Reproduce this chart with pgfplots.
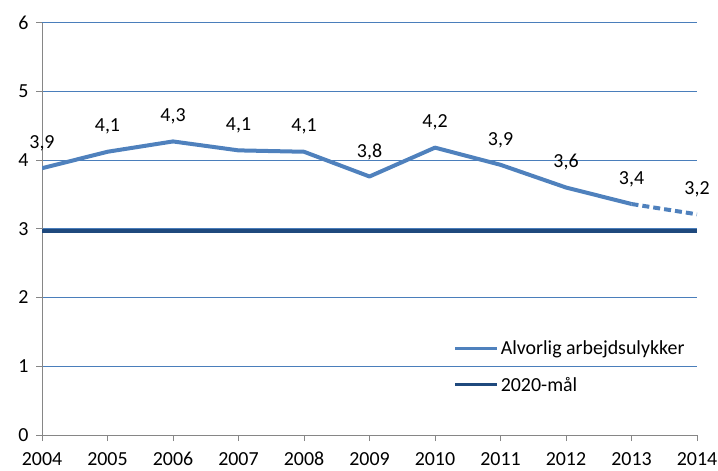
\documentclass[border=0pt]{standalone}
\usepackage{pgfplots}
\pgfplotsset{compat=1.18}
\usepackage{fontspec}
\setmainfont{Carlito}
\definecolor{lineblue}{HTML}{4F81BD}
\definecolor{darkblue}{HTML}{1F497D}
\definecolor{gridblue}{HTML}{4A7EBB}
\definecolor{axisgray}{HTML}{868686}
\newcommand{\lblfont}{\fontsize{20}{24}\selectfont}
\begin{document}
\begin{tikzpicture}
\begin{axis}[
  at={(0,0)}, anchor=south west,
  scale only axis, width=655bp, height=412.5bp,
  xmin=2004, xmax=2014, ymin=0, ymax=6,
  xtick={2004,2005,...,2014}, ytick={0,1,...,6},
  x tick label style={/pgf/number format/1000 sep={}},
  axis x line*=bottom, axis y line*=left,
  axis line style={axisgray, line width=0.75bp, -},
  tick align=outside, major tick length=6bp,
  tick style={axisgray, line width=0.75bp},
  ymajorgrids, grid style={gridblue, line width=0.75bp},
  /pgf/number format/assume math mode=true,
  ticklabel style={font=\lblfont, text=black},
  xticklabel style={text height=13bp, text depth=0bp, yshift=-7.5bp},
  yticklabel style={xshift=-4bp},
  legend style={draw=none, fill=none, font=\lblfont, at={(0.623,0.239)}, anchor=north west, row sep=17bp},
  legend cell align=left,
  legend image code/.code={\draw[#1, line width=3.5bp, solid] (0bp,0bp) -- (42bp,0bp);},
  every node near coord/.append style={anchor=center, yshift=25bp, font=\lblfont, text=black},
]
\addplot[lineblue, line width=4bp, line join=round, mark=none,
  nodes near coords={\pgfmathprintnumber[fixed, fixed zerofill, precision=1, use comma, assume math mode=true]{\pgfplotspointmeta}}]
  coordinates {(2004,3.88) (2005,4.12) (2006,4.27) (2007,4.14) (2008,4.12) (2009,3.76) (2010,4.18) (2011,3.93) (2012,3.60) (2013,3.36)};
\addlegendentry{Alvorlig arbejdsulykker}
\addplot[lineblue, line width=4bp, dash pattern=on 7bp off 4bp, mark=none, forget plot]
  coordinates {(2013,3.36) (2014,3.21)};
\addplot[draw=none, mark=none, forget plot,
  nodes near coords={\pgfmathprintnumber[fixed, fixed zerofill, precision=1, use comma, assume math mode=true]{\pgfplotspointmeta}}]
  coordinates {(2014,3.21)};
\addplot[darkblue, line width=4bp, mark=none] coordinates {(2004,2.965) (2014,2.965)};
\addlegendentry{2020-mål}
\end{axis}
\pgfresetboundingbox
\useasboundingbox (-42bp,-36bp) rectangle (676bp,435bp);
\end{tikzpicture}
\end{document}
